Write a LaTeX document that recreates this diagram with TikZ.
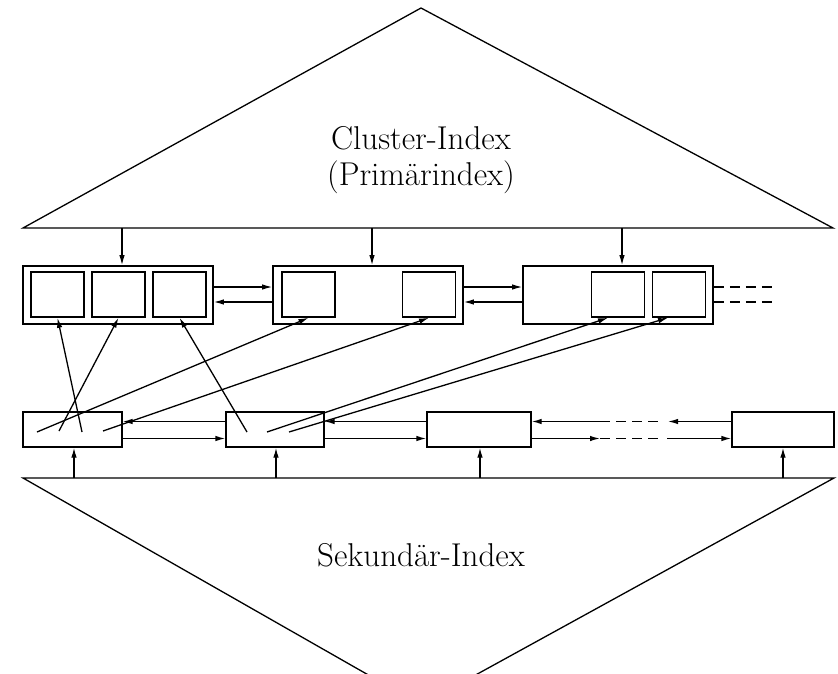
\documentclass[tikz,border=0pt]{standalone}
\usetikzlibrary{arrows.meta}
\begin{document}
\begin{tikzpicture}[x=1pt,y=-1pt,
  tri/.style={line width=1.3pt},
  pbox/.style={draw,line width=1.6pt,inner sep=0pt,minimum width=190pt,minimum height=58pt},
  ibox/.style={draw,line width=1.6pt,inner sep=0pt,minimum width=53pt,minimum height=45pt},
  sbox/.style={draw,line width=1.3pt,inner sep=0pt,minimum height=35pt},
  arr/.style={line width=1.3pt,-{Latex[length=10pt,width=5.5pt]}},
  dsh/.style={line width=1.3pt,dash pattern=on 10pt off 6pt},
  lbl/.style={font=\fontsize{33}{36}\selectfont,align=center,inner sep=0pt}]
\useasboundingbox (0,0) rectangle (838,674);
\clip (0,0) rectangle (838,674);
% triangles
\coordinate (T) at (421,8);
\coordinate (TL) at (23,228);
\coordinate (TR) at (833,228);
\draw[tri] (TL) -- (T) -- (TR) -- cycle;
\coordinate (B) at (421,705);
\coordinate (BL) at (23,478);
\coordinate (BR) at (834,478);
\draw[tri] (BL) -- (B) -- (BR) -- cycle;
\node[lbl] (ci) at (421,160) {Cluster-Index\\(Primärindex)};
\node[lbl] (si) at (421,555) {Sekundär-Index};
% primary boxes
\node[pbox] (P1) at (118,295) {};
\node[pbox] (P2) at (368,295) {};
\node[pbox] (P3) at (618,295) {};
\node[ibox] (Q11) at (57.5,294.5) {};
\node[ibox] (Q12) at (118.5,294.5) {};
\node[ibox] (Q13) at (179.5,294.5) {};
\node[ibox] (Q21) at (308.5,294.5) {};
\node[ibox] (Q22) at (429,294.5) {};
\node[ibox] (Q31) at (618,294.5) {};
\node[ibox] (Q32) at (679,294.5) {};
% secondary boxes
\node[sbox,minimum width=99pt] (A) at (72.5,429.5) {};
\node[sbox,minimum width=98pt] (Bx) at (275,429.5) {};
\node[sbox,minimum width=104pt] (C) at (479,429.5) {};
\node[sbox,minimum width=102pt] (D) at (783,429.5) {};
% arrows from cluster index
\coordinate (t1) at (122,228);
\coordinate (t2) at (372,228);
\coordinate (t3) at (622,228);
\draw[arr] (t1) -- (t1 |- P1.north);
\draw[arr] (t2) -- (t2 |- P2.north);
\draw[arr] (t3) -- (t3 |- P3.north);
% arrows from secondary index
\coordinate (b1) at (74,478);
\coordinate (b2) at (276,478);
\coordinate (b3) at (480,478);
\coordinate (b4) at (783,478);
\draw[arr] (b1) -- (b1 |- A.south);
\draw[arr] (b2) -- (b2 |- Bx.south);
\draw[arr] (b3) -- (b3 |- C.south);
\draw[arr] (b4) -- (b4 |- D.south);
% primary chain
\draw[arr] ([yshift=8pt]P1.east) -- ([yshift=8pt]P2.west);
\draw[arr] ([yshift=-7pt]P2.west) -- ([yshift=-7pt]P1.east);
\draw[arr] ([yshift=8pt]P2.east) -- ([yshift=8pt]P3.west);
\draw[arr] ([yshift=-7pt]P3.west) -- ([yshift=-7pt]P2.east);
\coordinate (pe1) at (774,287);
\coordinate (pe2) at (774,302);
\draw[dsh] ([yshift=8pt]P3.east) -- (pe1);
\draw[dsh] ([yshift=-7pt]P3.east) -- (pe2);
% secondary chain
\draw[arr] ([yshift=8pt]Bx.west) -- ([yshift=8pt]A.east);
\draw[arr] ([yshift=-9pt]A.east) -- ([yshift=-9pt]Bx.west);
\draw[arr] ([yshift=8pt]C.west) -- ([yshift=8pt]Bx.east);
\draw[arr] ([yshift=-9pt]Bx.east) -- ([yshift=-9pt]C.west);
\coordinate (u1) at (600,421.5);
\coordinate (u2) at (668,421.5);
\coordinate (l1) at (600,438.5);
\coordinate (l2) at (667,438.5);
\draw[arr] (D.west |- u2) -- (u2);
\draw[dsh] (u1) -- ([xshift=-6pt]u2);
\draw[arr] (u1) -- (C.east |- u1);
\draw[arr] (C.east |- l1) -- (l1);
\draw[dsh] (l1) -- ([xshift=-6pt]l2);
\draw[arr] (l2) -- (D.west |- l2);
% pointers
\coordinate (a1) at (37,432);
\coordinate (a2) at (59,431);
\coordinate (a3) at (82,432);
\coordinate (a4) at (103,431);
\coordinate (c1) at (247,432);
\coordinate (c2) at (267,432);
\coordinate (c3) at (289,432);
\draw[arr] (a1) -- (Q21.south);
\draw[arr] (a2) -- (Q12.south);
\draw[arr] (a3) -- (Q11.south);
\draw[arr] (a4) -- (Q22.south);
\draw[arr] (c1) -- (Q13.south);
\draw[arr] (c2) -- ([xshift=-10pt]Q31.south);
\draw[arr] (c3) -- ([xshift=-11pt]Q32.south);
\end{tikzpicture}
\end{document}
